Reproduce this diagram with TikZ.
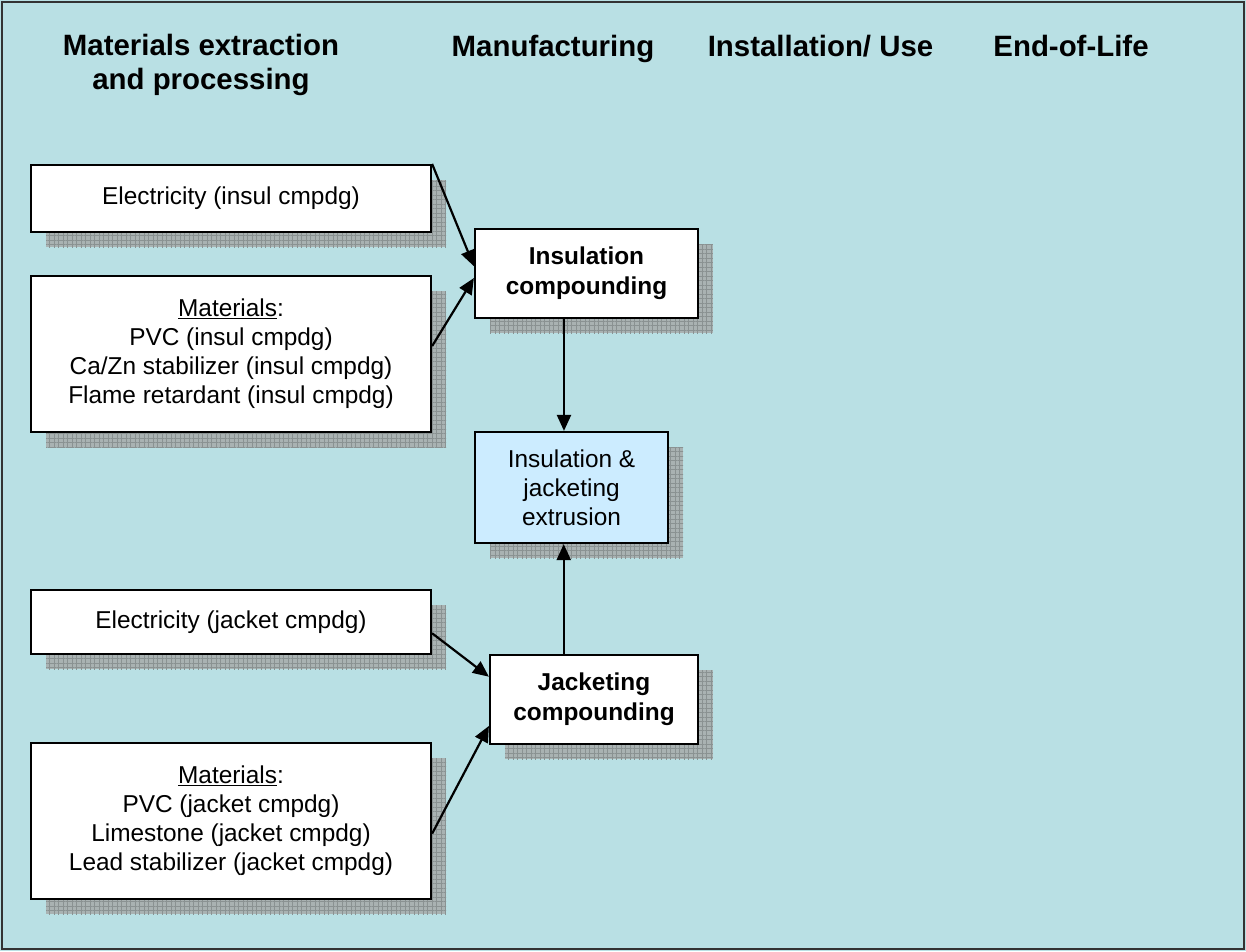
\documentclass[tikz,border=0pt]{standalone}
\usepackage{fontspec}
\setmainfont{Liberation Sans}
\usetikzlibrary{arrows.meta,shadows,patterns.meta,calc}
\definecolor{bg}{HTML}{B9E0E4}
\definecolor{shfill}{HTML}{A9B2B2}
\definecolor{shline}{HTML}{8A9292}
\definecolor{lightblue}{HTML}{CCECFF}
\begin{document}
\begin{tikzpicture}[x=1pt,y=-1pt,
  box/.style={draw=black,line width=2.2pt,fill=white,inner sep=0pt,align=center,
    font=\fontsize{24.4}{29}\selectfont,
    general shadow={shadow xshift=15pt,shadow yshift=-15pt,fill=shfill},
    general shadow={shadow xshift=15pt,shadow yshift=-15pt,
      pattern={Hatch[angle=0,distance=4.5pt,line width=0.7pt]},pattern color=shline}},
  hdr/.style={font=\fontsize{29.4}{34}\selectfont\bfseries,inner sep=0pt,align=center},
  arr/.style={line width=2.2pt,-{Triangle[length=16pt,width=14pt]}}]
\useasboundingbox (0,0) rectangle (1246,951);
\fill[bg] (0,0) rectangle (1246,951);
\draw[line width=2pt,black!80] (2,2) rectangle (1244,949);

% headers
\node[hdr] (h1) at (201,65) {Materials extraction\\and processing};
\node[hdr,anchor=base] (h2) at (553,56) {Manufacturing};
\node[hdr,anchor=base] (h3) at (820.5,56) {Installation/ Use};
\node[hdr,anchor=base] (h4) at (1071,56) {End-of-Life};

% boxes
\node[box,minimum width=400,minimum height=67] (e1) at (231,198.5) {Electricity (insul cmpdg)};
\node[box,minimum width=400,minimum height=156] (m1) at (231,354)
  {\underline{Materials}:\\PVC (insul cmpdg)\\Ca/Zn stabilizer (insul cmpdg)\\Flame retardant (insul cmpdg)};
\node[box,minimum width=223,minimum height=89,font=\fontsize{24.4}{30}\selectfont\bfseries] (ic) at (586.5,273.5) {Insulation\\compounding};
\node[box,fill=lightblue,minimum width=193,minimum height=111] (ij) at (571.5,487.5) {Insulation \&\\jacketing\\extrusion};
\node[box,minimum width=400,minimum height=64] (e2) at (231,622) {Electricity (jacket cmpdg)};
\node[box,minimum width=400,minimum height=156] (m2) at (231,821)
  {\underline{Materials}:\\PVC (jacket cmpdg)\\Limestone (jacket cmpdg)\\Lead stabilizer (jacket cmpdg)};
\node[box,minimum width=208,minimum height=89,font=\fontsize{24.4}{30}\selectfont\bfseries] (jc) at (594,699.5) {Jacketing\\compounding};

% connectors
\coordinate (icb) at ($(ic.south west)!0.4!(ic.south east)$);
\coordinate (jct) at ($(jc.north west)!0.356!(jc.north east)$);
\draw[arr] (e1.north east) -- ($(ic.north west)!0.42!(ic.south west)$);
\draw[arr] ($(m1.north east)!0.45!(m1.south east)$) -- ($(ic.north west)!0.55!(ic.south west)$);
\draw[arr] (icb) -- (icb |- ij.north);
\draw[arr] (jct) -- (jct |- ij.south);
\draw[arr] ($(e2.north east)!0.67!(e2.south east)$) -- ($(jc.north west)!0.25!(jc.south west)$);
\draw[arr] ($(m2.north east)!0.58!(m2.south east)$) -- ($(jc.north west)!0.79!(jc.south west)$);
\end{tikzpicture}
\end{document}
